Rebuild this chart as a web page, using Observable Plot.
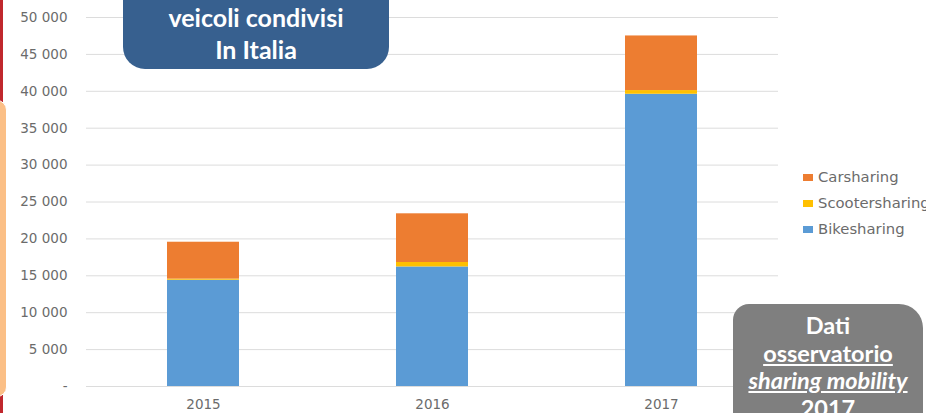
<!DOCTYPE html>
<html><head><meta charset="utf-8">
<script src="https://cdn.jsdelivr.net/npm/d3@7"></script>
<script src="https://cdn.jsdelivr.net/npm/@observablehq/plot@0.6"></script>
<style>
html,body{margin:0;padding:0;background:#fff;overflow:hidden}
#wrap{position:relative;width:926px;height:413px;overflow:hidden;background:#fff}
#wrap svg{position:absolute;left:0;top:0}
.red{position:absolute;left:0;top:0;width:3px;height:413px;background:#c0272d}
.peach{position:absolute;left:-40px;top:100px;width:45px;height:295px;background:#fbbf86;border-radius:0 10px 10px 0;border:1px solid #fff}
.title{position:absolute;left:123px;top:-40px;width:266px;height:109px;background:#37608f;border-radius:0 0 22px 22px;color:#fff;font-family:Lato,sans-serif;font-weight:700;font-size:25px;text-align:center;box-sizing:border-box;padding-top:41px;line-height:32px}
.source{position:absolute;left:733px;top:304px;width:190px;height:140px;background:#7f7f7f;border-radius:16px 24px 0 0;color:#fff;font-family:Lato,sans-serif;font-weight:700;font-size:23.5px;text-align:center;box-sizing:border-box;padding-top:8px;line-height:27.5px;white-space:nowrap}
.source .u{text-decoration:underline}
.source .i{font-style:italic}
.legend{position:absolute;left:803px;top:164px;font-family:"DejaVu Sans",sans-serif;font-size:14.8px;color:#6b6b6b;white-space:nowrap}
.legend .row{height:26px;line-height:18px;display:flex;align-items:center}
.legend .sw{display:inline-block;width:10px;height:7px;margin-right:5px;flex:none}
</style></head><body><div id="wrap"></div>
<script>
const years = ["2015", "2016", "2017"];
const series = ["Bikesharing", "Scootersharing", "Carsharing"];
const bikesharing = [14400, 16200, 39600];
const scootersharing = [150, 600, 500];
const carsharing = [5000, 6600, 7400];
const seriesColors = ["#5B9BD5", "#FFC000", "#ED7D31"];
const yTicks = [0, 5000, 10000, 15000, 20000, 25000, 30000, 35000, 40000, 45000, 50000];
const legendOrder = ["Carsharing", "Scootersharing", "Bikesharing"];
const titleLines = ["veicoli condivisi", "In Italia"];
const sourceLines = ["Dati", "osservatorio", "sharing mobility", "2017"];

const valuesBySeries = {Bikesharing: bikesharing, Scootersharing: scootersharing, Carsharing: carsharing};
const rows = [];
series.forEach(s => years.forEach((y, i) => rows.push({year: y, series: s, value: valuesBySeries[s][i]})));

const fmt = d => d === 0 ? "-" : d3.format(",")(d).replace(/,/g, "\u00a0");

const chart = Plot.plot({
  width: 926, height: 413,
  marginLeft: 86, marginRight: 148, marginTop: 17, marginBottom: 27,
  style: {fontFamily: "'DejaVu Sans', sans-serif", fontSize: "13.5px", color: "#6b6b6b", background: "transparent"},
  x: {domain: years, paddingInner: 0.687, paddingOuter: 0.35},
  y: {domain: [0, 50000]},
  color: {domain: series, range: seriesColors},
  marks: [
    Plot.ruleY(yTicks, {stroke: "#dcdcdc", strokeWidth: 1}),
    Plot.barY(rows, {x: "year", y: "value", fill: "series", order: series}),
    Plot.axisY(yTicks, {tickSize: 0, tickPadding: 19, tickFormat: fmt, label: null}),
    Plot.axisX({tickSize: 0, tickPadding: 13, label: null})
  ]
});

const wrap = document.getElementById("wrap");
wrap.appendChild(chart);

const red = document.createElement("div"); red.className = "red"; wrap.appendChild(red);
const peach = document.createElement("div"); peach.className = "peach"; wrap.appendChild(peach);

const title = document.createElement("div"); title.className = "title";
title.innerHTML = titleLines.join("<br>");
wrap.appendChild(title);

const src = document.createElement("div"); src.className = "source";
src.innerHTML = `<div>${sourceLines[0]}</div><div><span class="u">${sourceLines[1]}</span></div><div><span class="u i">${sourceLines[2]}</span></div><div>${sourceLines[3]}</div>`;
wrap.appendChild(src);

const colorOf = Object.fromEntries(series.map((s, i) => [s, seriesColors[i]]));
const legend = document.createElement("div"); legend.className = "legend";
legend.innerHTML = legendOrder.map(s => `<div class="row"><span class="sw" style="background:${colorOf[s]}"></span>${s}</div>`).join("");
wrap.appendChild(legend);
</script></body></html>
